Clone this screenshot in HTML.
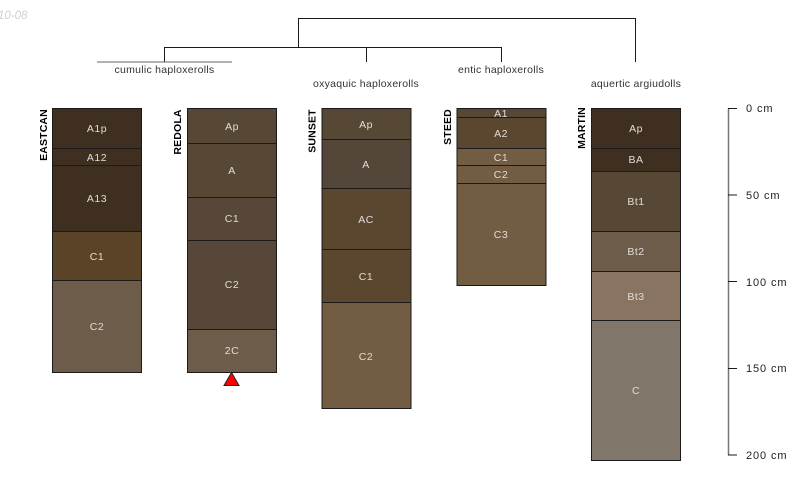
<!DOCTYPE html>
<html><head><meta charset="utf-8"><style>
html,body{margin:0;padding:0;background:#fff}
svg{display:block}
text{font-family:"Liberation Sans",sans-serif}
.t{font-size:10.5px;letter-spacing:.27px;fill:#333;text-anchor:middle}
.h{font-size:10.5px;letter-spacing:.5px;fill:#e0dcd6;text-anchor:middle}
.n{font-size:10.5px;font-weight:bold;letter-spacing:.15px;fill:#000;text-anchor:middle}
.d{font-size:11px;letter-spacing:.9px;fill:#222}
.l{stroke:#1a1a1a;stroke-width:1;fill:none}
rect{stroke:#1a1a1a;stroke-width:1}
</style></head><body>
<svg width="800" height="500" viewBox="0 0 800 500" xmlns="http://www.w3.org/2000/svg">
<text x="-2" y="19" font-size="11.5" font-style="italic" fill="#cfcfcf">10-08</text>
<path class="l" d="M298.5 47V18.5H635.5V62M164.5 62V47.5H501.5V62M366.5 47.5V62"/>
<path d="M97 62H232" stroke="#666" stroke-width="1"/>
<text class="t" x="164.5" y="73">cumulic haploxerolls</text>
<text class="t" x="366" y="87">oxyaquic haploxerolls</text>
<text class="t" x="501" y="73">entic haploxerolls</text>
<text class="t" x="636" y="87">aquertic argiudolls</text>

<rect x="52.5" y="108.5" width="89" height="40" fill="#3e2f20"/>
<rect x="52.5" y="148.5" width="89" height="17" fill="#3e2f20"/>
<rect x="52.5" y="165.5" width="89" height="66" fill="#3e2f20"/>
<rect x="52.5" y="231.5" width="89" height="49" fill="#5b4327"/>
<rect x="52.5" y="280.5" width="89" height="92" fill="#6e5c4b"/>
<text class="h" x="97" y="132">A1p</text><text class="h" x="97" y="161">A12</text><text class="h" x="97" y="202">A13</text><text class="h" x="97" y="260">C1</text><text class="h" x="97" y="330">C2</text>
<text class="n" transform="translate(47,135) rotate(-90)">EASTCAN</text>

<rect x="187.5" y="108.5" width="89" height="35" fill="#574836"/>
<rect x="187.5" y="143.5" width="89" height="54" fill="#574836"/>
<rect x="187.5" y="197.5" width="89" height="43" fill="#564739"/>
<rect x="187.5" y="240.5" width="89" height="89" fill="#564739"/>
<rect x="187.5" y="329.5" width="89" height="43" fill="#6e5c4b"/>
<text class="h" x="232" y="130">Ap</text><text class="h" x="232" y="174">A</text><text class="h" x="232" y="222">C1</text><text class="h" x="232" y="288">C2</text><text class="h" x="232" y="354">2C</text>
<text class="n" transform="translate(181,132) rotate(-90)">REDOLA</text>
<path d="M231.5 372.5L239 385.5H224Z" fill="#f00" stroke="#222" stroke-width="1"/>

<rect x="322" y="108.5" width="89" height="31" fill="#574836"/>
<rect x="322" y="139.5" width="89" height="49" fill="#544739"/>
<rect x="322" y="188.5" width="89" height="61" fill="#5b4730"/>
<rect x="322" y="249.5" width="89" height="53" fill="#5b4730"/>
<rect x="322" y="302.5" width="89" height="106" fill="#725c42"/>
<text class="h" x="366" y="128">Ap</text><text class="h" x="366" y="168">A</text><text class="h" x="366" y="223">AC</text><text class="h" x="366" y="280">C1</text><text class="h" x="366" y="360">C2</text>
<text class="n" transform="translate(315.5,131) rotate(-90)">SUNSET</text>

<rect x="457" y="108.5" width="89" height="9" fill="#574836"/>
<rect x="457" y="117.5" width="89" height="31" fill="#5b4730"/>
<rect x="457" y="148.5" width="89" height="17" fill="#725c42"/>
<rect x="457" y="165.5" width="89" height="18" fill="#725c42"/>
<rect x="457" y="183.5" width="89" height="102" fill="#725c42"/>
<text class="h" x="501" y="117">A1</text><text class="h" x="501" y="137">A2</text><text class="h" x="501" y="161">C1</text><text class="h" x="501" y="178">C2</text><text class="h" x="501" y="238">C3</text>
<text class="n" transform="translate(451,127) rotate(-90)">STEED</text>

<rect x="591.5" y="108.5" width="89" height="40" fill="#3e2f20"/>
<rect x="591.5" y="148.5" width="89" height="23" fill="#3e2f20"/>
<rect x="591.5" y="171.5" width="89" height="60" fill="#574836"/>
<rect x="591.5" y="231.5" width="89" height="40" fill="#6e5c4b"/>
<rect x="591.5" y="271.5" width="89" height="49" fill="#887460"/>
<rect x="591.5" y="320.5" width="89" height="140" fill="#807669"/>
<text class="h" x="636" y="132">Ap</text><text class="h" x="636" y="163">BA</text><text class="h" x="636" y="205">Bt1</text><text class="h" x="636" y="255">Bt2</text><text class="h" x="636" y="300">Bt3</text><text class="h" x="636" y="394">C</text>
<text class="n" transform="translate(585,128) rotate(-90)">MARTIN</text>

<path d="M728.5 108.5V455" stroke="#777" stroke-width="1.5" fill="none"/>
<path class="l" d="M728 108.5H737M728 195H737M728 281.5H737M728 368.5H737M728 455H737"/>
<text class="d" x="746" y="112">0 cm</text>
<text class="d" x="746" y="199">50 cm</text>
<text class="d" x="746" y="286">100 cm</text>
<text class="d" x="746" y="372">150 cm</text>
<text class="d" x="746" y="459">200 cm</text>
</svg>
</body></html>
